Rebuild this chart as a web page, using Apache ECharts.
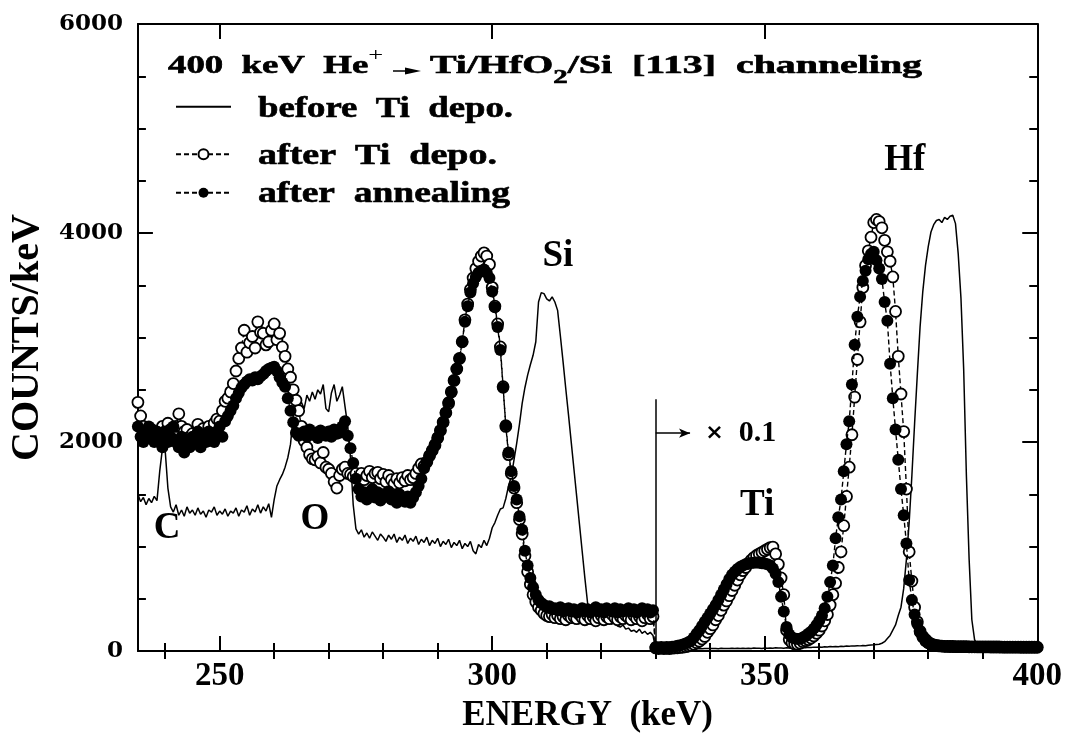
<!DOCTYPE html>
<html>
<head>
<meta charset="utf-8">
<script src="https://cdn.jsdelivr.net/npm/echarts@6/dist/echarts.min.js"></script>
<style>
  html, body { margin: 0; padding: 0; background: #fff; }
  #chart { width: 1065px; height: 738px; }
</style>
</head>
<body>
<div id="chart"></div>
<script>
// RBS channeling spectra, one value per 0.5 keV channel starting at 235 keV.
const E_START = 235;
const E_STEP = 0.5;
const SCALE_BREAK = 330;   // spectra above this energy are plotted x0.1

// 235.0 ... 329.5 keV, counts/keV
const beforeLow = [
  1500,1430,1470,1400,1460,1420,1480,1440,1720,1940,1920,1560,1380,1330,1400,1300,1350,1290,1380,1320,
  1350,1300,1370,1310,1340,1280,1350,1330,1380,1300,1340,1310,1360,1290,1340,1320,1370,1290,1350,1330,
  1390,1300,1360,1330,1400,1320,1380,1340,1410,1280,1450,1580,1640,1690,1760,1850,1980,2250,2300,2350,
  2380,2320,2450,2390,2480,2410,2500,2460,2550,2320,2290,2470,2550,2390,2450,2530,2340,2150,1850,1400,
  1170,1120,1160,1090,1130,1080,1140,1100,1060,1120,1090,1050,1110,1070,1120,1040,1090,1060,1110,1030,
  1080,1050,1100,1020,1070,1040,1090,1010,1060,1030,1080,1000,1050,1020,1070,990,1040,1010,1060,980,
  1030,1000,1050,960,930,1020,990,1060,1010,1080,1180,1230,1300,1360,1370,1460,1580,1670,1830,1990,
  2170,2370,2520,2640,2740,2830,2960,3340,3430,3420,3370,3350,3390,3340,3260,3020,2770,2510,2260,2000,
  1740,1480,1220,960,700,460,390,360,370,330,310,290,300,270,260,280,240,230,250,210,
  220,190,200,180,210,170,190,160,180,150
];
const afterDepoLow = [
  2380,2250,2150,2100,2080,2120,2050,2100,2060,2150,2100,2180,2120,2080,2150,2270,2150,2100,2120,2050,
  2080,2000,2170,2100,2130,2080,2150,2100,2180,2220,2200,2300,2390,2420,2480,2560,2680,2800,2900,3070,
  2860,2950,3010,2900,3150,3050,3040,2930,2960,3070,3130,2980,3040,2910,2820,2700,2620,2500,2400,2300,
  2150,2010,1950,1880,1840,1830,1860,1800,1900,1760,1740,1700,1620,1560,1680,1740,1760,1700,1690,1670,
  1700,1650,1700,1640,1680,1720,1660,1700,1710,1650,1690,1620,1680,1640,1600,1650,1610,1660,1630,1680,
  1640,1660,1700,1750,1790,1770,1810,1870,1920,1970,2040,2110,2190,2280,2370,2480,2590,2700,2800,2960,
  3170,3320,3460,3570,3660,3730,3780,3810,3780,3700,3480,3300,3130,2910,2530,2150,1880,1700,1560,1420,
  1260,1120,910,760,640,540,470,420,390,360,340,330,350,320,340,310,330,300,340,320,
  330,310,350,320,300,340,310,330,290,320,340,300,330,310,350,320,300,330,310,340,
  320,300,340,310,330,290,320,350,310,330
];
const afterAnnealLow = [
  2150,2050,2000,2100,2150,2050,2000,2100,2050,1950,2100,2000,2050,2150,2000,1950,2050,1900,2000,1950,
  2050,2000,2100,1950,2050,2000,2100,2050,2000,2100,2150,2050,2200,2250,2300,2350,2420,2470,2520,2550,
  2580,2600,2590,2620,2600,2630,2650,2680,2700,2710,2720,2680,2620,2570,2530,2420,2300,2190,2090,2060,
  2080,2100,2050,2120,2070,2090,2040,2110,2080,2060,2100,2050,2120,2080,2090,2150,2200,2060,1940,1800,
  1650,1550,1480,1520,1450,1500,1550,1470,1520,1440,1500,1480,1530,1450,1490,1420,1500,1460,1430,1480,
  1420,1470,1520,1580,1650,1750,1810,1870,1920,1980,2040,2110,2190,2280,2380,2480,2590,2700,2800,2960,
  3150,3300,3430,3520,3580,3620,3640,3650,3620,3570,3440,3290,3100,2880,2520,2160,1900,1720,1580,1450,
  1290,1160,960,820,700,610,540,490,460,440,420,430,400,410,390,420,380,400,410,380,
  400,370,390,410,380,400,370,390,420,380,400,370,410,390,380,410,370,400,380,390,
  410,380,400,370,390,410,380,400,370,390
];

// 330.0 ... 400.0 keV, counts/keV x0.1
const beforeHigh = [
  20,18,22,19,21,20,23,20,22,21,24,22,23,21,25,22,24,23,25,24,
  26,24,25,23,27,25,26,24,28,25,27,26,28,25,27,26,29,27,28,26,
  29,27,30,28,31,29,30,28,32,30,33,31,34,32,35,33,37,35,38,36,
  39,37,41,39,43,41,44,42,46,44,48,46,50,48,52,50,54,52,56,58,
  60,63,66,75,90,120,150,200,250,340,420,600,880,1230,1680,2180,2650,3100,3440,3690,
  3870,4010,4080,4120,4130,4100,4150,4130,4160,4170,4090,3800,3380,2700,1680,880,300,110,55,35,
  28,25,22,20,18,17,16,15,15,14,14,13,13,12,12,12,11,11,11,10,
  10
];
const afterDepoHigh = [
  30,25,28,25,27,25,28,30,32,35,38,42,48,55,65,80,95,115,140,180,
  215,250,300,340,390,440,480,530,580,630,680,730,770,800,840,870,895,915,930,945,
  960,975,990,995,930,830,700,540,200,110,80,68,66,75,90,100,110,125,145,170,
  200,240,290,350,440,540,650,800,950,1200,1480,1760,2070,2430,2790,3150,3480,3690,3830,3960,
  4100,4130,4110,4050,3930,3820,3730,3580,3250,2820,2460,2100,1550,950,670,420,280,190,140,110,
  85,70,60,55,50,48,46,45,44,44,43,43,42,42,42,41,41,41,40,40,
  40,40,40,39,39,39,39,38,38,38,38,38,38,38,37,37,37,37,37,37,
  37
];
const afterAnnealHigh = [
  40,35,40,35,40,38,42,45,50,55,62,72,85,100,130,165,200,240,280,320,
  360,400,440,490,540,590,640,690,730,760,785,805,820,830,838,842,845,848,845,840,
  838,832,820,790,740,660,520,380,230,160,130,120,115,118,130,145,165,185,215,250,
  290,340,410,520,660,820,1080,1280,1450,1720,1980,2200,2550,2930,3200,3390,3540,3640,3750,3800,
  3820,3740,3660,3560,3340,3160,2750,2420,2120,1830,1550,1300,1030,680,490,350,260,180,130,95,
  75,65,58,52,48,46,45,44,43,43,42,42,42,41,41,41,40,40,40,40,
  40,40,40,39,39,39,39,39,38,38,38,38,38,38,38,38,38,38,38,38,
  38
];

const seriesNames = ['before Ti depo.', 'after Ti depo.', 'after annealing'];
const xMajorTicks = [250, 300, 350, 400];
const xMinorTicks = [240, 260, 270, 280, 290, 310, 320, 330, 340, 360, 370, 380, 390];

// element edges and the scale-break note, in data coordinates
const peakLabels = [
  { name: 'C',  at: [240.35, 1171] },
  { name: 'O',  at: [267.45, 1256] },
  { name: 'Si', at: [312.05, 3772] },
  { name: 'Ti', at: [348.6, 1389] },
  { name: 'Hf', at: [375.7, 4697] }
];
const breakNote = { text: '× 0.1', at: [345.6, 2085] };
const breakTop = 2410;
const breakArrowEnd = 336.3;

const FONT = "'Liberation Serif', 'Times New Roman', serif";
const WIDE_FONT = "'DejaVu Serif', serif";

function toPoints(low, high) {
  return low.concat(high).map((v, i) => [E_START + i * E_STEP, v]);
}

// Text in the key is set wide; measure it so it can be stretched to its box width.
const measureCtx = document.createElement('canvas').getContext('2d');
function textWidth(str, size) {
  measureCtx.font = 'bold ' + size + 'px ' + FONT;
  return measureCtx.measureText(str).width;
}
function wideText(x, y, rich, text, plainWidth, boxWidth, vAlign) {
  return {
    type: 'text', x: x, y: y, scaleX: boxWidth / plainWidth, silent: true,
    style: { text: text, rich: rich, verticalAlign: vAlign || 'top', align: 'left',
             font: 'bold 29px ' + FONT, fill: '#000' }
  };
}

const chart = echarts.init(document.getElementById('chart'), null, { renderer: 'canvas' });

const tickStyle = { color: '#000', width: 2 };
const frameLine = { show: true, onZero: false, lineStyle: { color: '#000', width: 2 } };

function xAxisDef(position, values, length, withLine, withLabels) {
  return {
    type: 'value', min: 235, max: 400, position: position,
    axisLine: withLine ? frameLine : { show: false },
    axisTick: { show: true, inside: true, length: length, lineStyle: tickStyle, customValues: values },
    axisLabel: withLabels ? {
      show: true, customValues: values, margin: 9,
      fontFamily: FONT, fontWeight: 'bold', fontSize: 33, color: '#000'
    } : { show: false },
    splitLine: { show: false }
  };
}

const xAxes = [
  xAxisDef('bottom', xMajorTicks, 15, true, true),
  xAxisDef('bottom', xMinorTicks, 8, false, false),
  xAxisDef('top', xMajorTicks, 15, true, false),
  xAxisDef('top', xMinorTicks, 8, false, false)
];
Object.assign(xAxes[0], {
  name: 'ENERGY  (keV)', nameLocation: 'middle', nameGap: 46,
  nameTextStyle: { fontFamily: FONT, fontWeight: 'bold', fontSize: 35, color: '#000' }
});

function yAxisDef(position, withLabels) {
  return {
    type: 'value', min: 0, max: 6000, interval: 2000, position: position,
    axisLine: frameLine,
    axisTick: { show: true, inside: true, length: 15, lineStyle: tickStyle },
    minorTick: { show: true, splitNumber: 4, length: 8, lineStyle: tickStyle },
    axisLabel: withLabels ? {
      show: true, margin: 15, formatter: v => String(v),
      fontFamily: WIDE_FONT, fontWeight: 'bold', fontSize: 23, color: '#000'
    } : { show: false },
    splitLine: { show: false },
    minorSplitLine: { show: false }
  };
}
const yAxes = [yAxisDef('left', true), yAxisDef('right', false)];
Object.assign(yAxes[0], {
  name: 'COUNTS/keV', nameLocation: 'middle', nameGap: 85, nameRotate: 90,
  nameTextStyle: { fontFamily: FONT, fontWeight: 'bold', fontSize: 40, color: '#000' }
});

// key icons come from the legend; their captions are drawn beside them
function legendDef(name, top, hideSymbol) {
  const def = {
    data: [name], left: 175, top: top, orient: 'vertical', padding: 0,
    itemWidth: 55, itemHeight: 12.5, selectedMode: false,
    formatter: () => '',
    textStyle: { fontSize: 8, padding: 0 }
  };
  if (hideSymbol) def.itemStyle = { opacity: 0 };
  return def;
}

const heavy = { stroke: '#000', lineWidth: 0.6 };
const keyRich = { t: Object.assign({ font: 'bold 29px ' + FONT, fill: '#000' }, heavy) };
const titleRich = {
  t: Object.assign({ fontFamily: FONT, fontWeight: 'bold', fontSize: 25, lineHeight: 40, fill: '#000' }, heavy),
  sup: { fontFamily: FONT, fontSize: 18, lineHeight: 12, verticalAlign: 'top', fill: '#000' },
  sub: Object.assign({ fontFamily: FONT, fontWeight: 'bold', fontSize: 18, lineHeight: 22, verticalAlign: 'bottom', fill: '#000' }, heavy)
};
const title1 = '400  keV  He';
const title2a = 'Ti/HfO', title2b = '/Si  [113]  channeling';
const keyCaptions = seriesNames.map(n => n.replace(/ /g, '  '));

const dashed = { color: '#000', width: 1.4, type: [5, 3] };

const option = {
  animation: false,
  backgroundColor: '#fff',
  grid: { left: 130, right: 25, top: 24, bottom: 81, containLabel: false },
  xAxis: xAxes,
  yAxis: yAxes,
  legend: [
    legendDef(seriesNames[0], 100.5, true),
    legendDef(seriesNames[1], 148, false),
    legendDef(seriesNames[2], 186.5, false)
  ],
  graphic: [
    wideText(168, 47, titleRich, '{t|' + title1 + '}{sup|+}',
             textWidth(title1, 25) + 10, 215),
    {
      type: 'group', silent: true,
      children: [
        { type: 'line', shape: { x1: 393, y1: 71, x2: 410, y2: 71 }, style: { stroke: '#000', lineWidth: 1.5 } },
        { type: 'polygon', shape: { points: [[405, 67.5], [421, 71], [405, 74.5]] }, style: { fill: '#000' } }
      ]
    },
    wideText(430, 47, titleRich, '{t|' + title2a + '}{sub|2}{t|' + title2b + '}',
             textWidth(title2a, 25) + textWidth('2', 18) + textWidth(title2b, 25), 492),
    wideText(258, 110, keyRich, '{t|' + keyCaptions[0] + '}', textWidth(keyCaptions[0], 29), 255, 'middle'),
    wideText(258, 156.5, keyRich, '{t|' + keyCaptions[1] + '}', textWidth(keyCaptions[1], 29), 239, 'middle'),
    wideText(258, 195, keyRich, '{t|' + keyCaptions[2] + '}', textWidth(keyCaptions[2], 29), 252, 'middle')
  ],
  series: [
    {
      name: seriesNames[0], type: 'line', xAxisIndex: 0, yAxisIndex: 0,
      data: toPoints(beforeLow, beforeHigh),
      showSymbol: false, symbol: 'none',
      lineStyle: { color: '#000', width: 1.5 },
      itemStyle: { color: '#000' },
      z: 2,
      markLine: {
        silent: true, symbol: ['none', 'none'], animation: false,
        label: { show: false },
        lineStyle: { color: '#000', width: 1.5, type: 'solid' },
        data: [
          [{ coord: [SCALE_BREAK, 0] }, { coord: [SCALE_BREAK, breakTop] }],
          [{ coord: [SCALE_BREAK, breakNote.at[1]], symbol: 'none' },
           { coord: [breakArrowEnd, breakNote.at[1]], symbol: 'arrow', symbolSize: [7, 11] }]
        ]
      }
    },
    {
      name: seriesNames[1], type: 'line', xAxisIndex: 0, yAxisIndex: 0,
      data: toPoints(afterDepoLow, afterDepoHigh),
      symbol: 'circle', symbolSize: 11, showSymbol: true,
      lineStyle: dashed,
      itemStyle: { color: '#fff', borderColor: '#000', borderWidth: 1.8 },
      z: 3
    },
    {
      name: seriesNames[2], type: 'line', xAxisIndex: 0, yAxisIndex: 0,
      data: toPoints(afterAnnealLow, afterAnnealHigh),
      symbol: 'circle', symbolSize: 12, showSymbol: true,
      lineStyle: dashed,
      itemStyle: { color: '#000', borderColor: '#000', borderWidth: 0 },
      z: 4
    },
    {
      name: 'annotations', type: 'scatter', xAxisIndex: 0, yAxisIndex: 0,
      silent: true, symbolSize: 1, itemStyle: { color: 'rgba(0,0,0,0)', opacity: 1 }, z: 6,
      data: peakLabels.map(p => ({ name: p.name, value: p.at })).concat([
        { name: breakNote.text, value: breakNote.at,
          label: {
            formatter: '{m|×}{n|  0.1}',
            rich: {
              m: { fontFamily: "'DejaVu Sans', sans-serif", fontSize: 22, color: '#000' },
              n: { fontFamily: FONT, fontWeight: 'bold', fontSize: 30, color: '#000' }
            }
          } }
      ]),
      label: {
        show: true, position: 'inside', formatter: '{b}',
        fontFamily: FONT, fontWeight: 'bold', fontSize: 37, color: '#000', opacity: 1
      }
    }
  ]
};

chart.setOption(option);
</script>
</body>
</html>
